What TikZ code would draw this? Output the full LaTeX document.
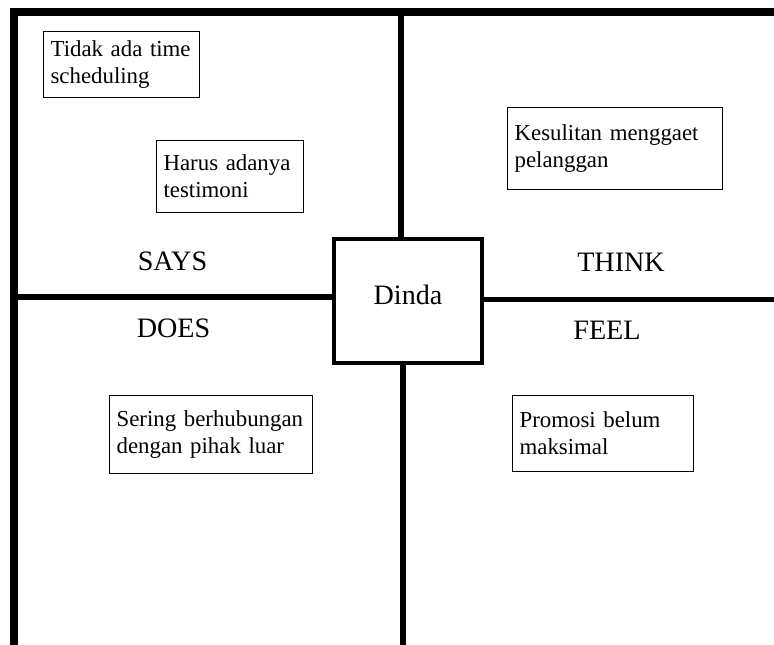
\documentclass[tikz,border=0pt]{standalone}
\usepackage{fontspec}
\setmainfont{Liberation Serif}
\usetikzlibrary{positioning}

\begin{document}
\begin{tikzpicture}[
  x=0.02cm, y=-0.02cm,
  note/.style={rectangle, draw, line width=0.7pt, anchor=north west, align=left, inner xsep=0.14cm, inner ysep=2pt, font=\fontsize{13}{15.4}\selectfont},
  quad/.style={font=\fontsize{16}{19}\selectfont},
  frame/.style={line width=4pt, line join=miter},
  divider/.style={line width=2.9pt},
]
\useasboundingbox (0,0) rectangle (774,645);

% === OUTER FRAME ===
\draw[frame] (14,645) -- (14,12) -- (774,12);

% === CENTRE BOX AND DIVIDERS ===
\node[draw, line width=2.4pt, minimum width=2.96cm, minimum height=2.48cm, text height=0.4cm, text depth=0.24cm, quad] (dinda) at (408,301) {Dinda};

\coordinate (top) at (401,12);
\coordinate (bottom) at (403,645);
\coordinate (left) at (14,297);
\coordinate (right) at (774,299.5);
\draw[divider] (top) -- (top |- dinda.north);
\draw[divider] (bottom) -- (bottom |- dinda.south);
\draw[divider] (left) -- (left -| dinda.west);
\draw[divider] (right) -- (right -| dinda.east);

% === QUADRANT TITLES ===
\node[quad] (says) at (172.5,261.5) {SAYS};
\node[quad] (think) at (621,262) {THINK};
\node[quad] (does) at (173.5,328) {DOES};
\node[quad] (feel) at (607,330) {FEEL};

% === NOTES ===
\node[note, text width=2.84cm, minimum height=1.32cm] (tidak) at (43,31) {Tidak ada time\\scheduling};
\node[note, text width=2.66cm, minimum height=1.44cm] (harus) at (156,140) {Harus adanya\\testimoni};
\node[note, text width=4.02cm, minimum height=1.64cm] (kesulitan) at (507,107) {Kesulitan menggaet\\pelanggan};
\node[note, text width=3.78cm, minimum height=1.56cm] (sering) at (109,395) {Sering berhubungan\\dengan pihak luar};
\node[note, text width=3.34cm, minimum height=1.52cm] (promosi) at (512,395) {Promosi belum\\maksimal};
\end{tikzpicture}
\end{document}
